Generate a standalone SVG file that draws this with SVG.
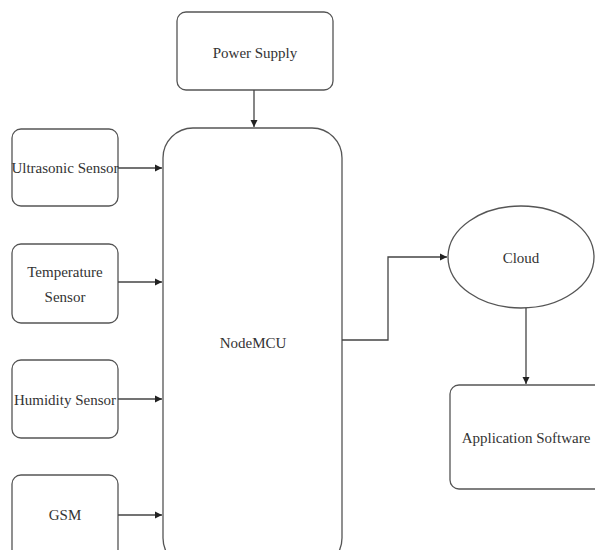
<svg xmlns="http://www.w3.org/2000/svg" width="595" height="550" viewBox="0 0 595 550">
<defs>
<marker id="ah" markerWidth="8" markerHeight="8" refX="7" refY="4" orient="auto" markerUnits="userSpaceOnUse">
<path d="M0,0.5 L7,4 L0,7.5 Z" fill="#222"/>
</marker>
<style>
.box{fill:#fff;stroke:#555;stroke-width:1.3}
.t{font-size:15px;fill:#333;text-anchor:middle}
.c{fill:none;stroke:#444;stroke-width:1.3;marker-end:url(#ah)}
</style>
</defs>
<rect width="595" height="550" fill="#fff"/>
<g font-family="Liberation Serif, serif">
<g id="power"><rect class="box" x="177" y="12" width="156" height="78" rx="9"/><text class="t" x="255" y="58">Power Supply</text></g>
<g id="nodemcu"><rect class="box" x="163" y="128" width="179" height="440" rx="30"/><text class="t" x="253" y="348">NodeMCU</text></g>
<g id="ultrasonic"><rect class="box" x="12" y="129" width="106" height="77" rx="9"/><text class="t" x="65" y="173">Ultrasonic Sensor</text></g>
<g id="temperature"><rect class="box" x="12" y="244" width="106" height="79" rx="9"/><text class="t" x="65" y="277">Temperature</text><text class="t" x="65" y="302">Sensor</text></g>
<g id="humidity"><rect class="box" x="12" y="360" width="106" height="78" rx="9"/><text class="t" x="65" y="405">Humidity Sensor</text></g>
<g id="gsm"><rect class="box" x="12" y="475" width="106" height="90" rx="9"/><text class="t" x="65" y="520">GSM</text></g>
<g id="cloud"><ellipse class="box" cx="521" cy="257" rx="73" ry="51"/><text class="t" x="521" y="263">Cloud</text></g>
<g id="app"><rect class="box" x="450" y="385" width="160" height="104" rx="9"/><text class="t" x="526" y="443">Application Software</text></g>
</g>
<g id="connectors">
<path class="c" d="M254,90 V127"/>
<path class="c" d="M118,168 H162"/>
<path class="c" d="M118,282 H162"/>
<path class="c" d="M118,399 H162"/>
<path class="c" d="M118,515 H162"/>
<path class="c" d="M342,340 H388 V257 H447"/>
<path class="c" d="M526,308 V384"/>
</g>
</svg>
